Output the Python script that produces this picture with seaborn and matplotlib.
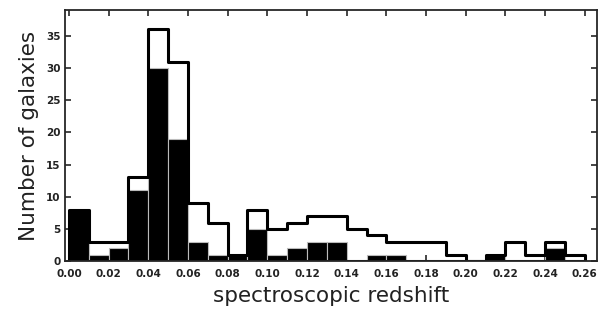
import numpy as np
import pandas as pd
import matplotlib
matplotlib.use("Agg")
import matplotlib.pyplot as plt
import seaborn as sns

# redshift bins (width 0.01) and counts per bin
bin_centers = np.round(np.arange(0.005, 0.26, 0.01), 3)
all_counts = [8, 3, 3, 13, 36, 31, 9, 6, 1, 8, 5, 6, 7, 7, 5, 4, 3, 3, 3, 1, 0, 1, 3, 1, 3, 1]
sub_counts = [8, 1, 2, 11, 30, 19, 3, 1, 1, 5, 1, 2, 3, 3, 0, 1, 1, 0, 0, 0, 0, 1, 0, 0, 2, 0]
xticks = np.round(np.arange(0, 0.261, 0.02), 2)
yticks = [0, 5, 10, 15, 20, 25, 30, 35]

df = pd.DataFrame({"z": bin_centers, "all": all_counts, "sub": sub_counts})

sns.set_style("ticks")
plt.rcParams["font.family"] = ["DejaVu Sans"]

fig = plt.figure(figsize=(6.07, 3.15), dpi=100)
ax = fig.add_axes([0.107, 0.171, 0.876, 0.797])

sns.histplot(data=df, x="z", weights="sub", binwidth=0.01, binrange=(0, 0.26), element="bars",
             color="black", edgecolor="#bbbbbb", linewidth=0.8, alpha=1, ax=ax)
# outline of the full sample, closed down to zero at both ends
sns.histplot(data=df, x="z", weights="all", binwidth=0.01, binrange=(0, 0.26), element="step",
             fill=True, color="black", facecolor="none", edgecolor="black", linewidth=2.2, ax=ax)

ax.set_xlim(-0.002, 0.266)
ax.set_ylim(0, 39)
ax.set_xticks(xticks)
ax.set_xticklabels([f"{t:.2f}" for t in xticks], fontsize=7.5, fontweight="bold", color="#222222")
ax.set_yticks(yticks)
ax.set_yticklabels([str(t) for t in yticks], fontsize=7.5, fontweight="bold", color="#222222")
ax.tick_params(direction="in", top=True, right=True, length=4, width=1.2, pad=3)
ax.tick_params(axis="x", pad=6)
for s in ax.spines.values():
    s.set_linewidth(1.3)
    s.set_visible(True)

ax.set_xlabel("spectroscopic redshift", fontsize=15.5, color="#222222", labelpad=5)
ax.set_ylabel("Number of galaxies", fontsize=15.5, color="#222222", labelpad=5)

fig.savefig("out.png", dpi=100)
